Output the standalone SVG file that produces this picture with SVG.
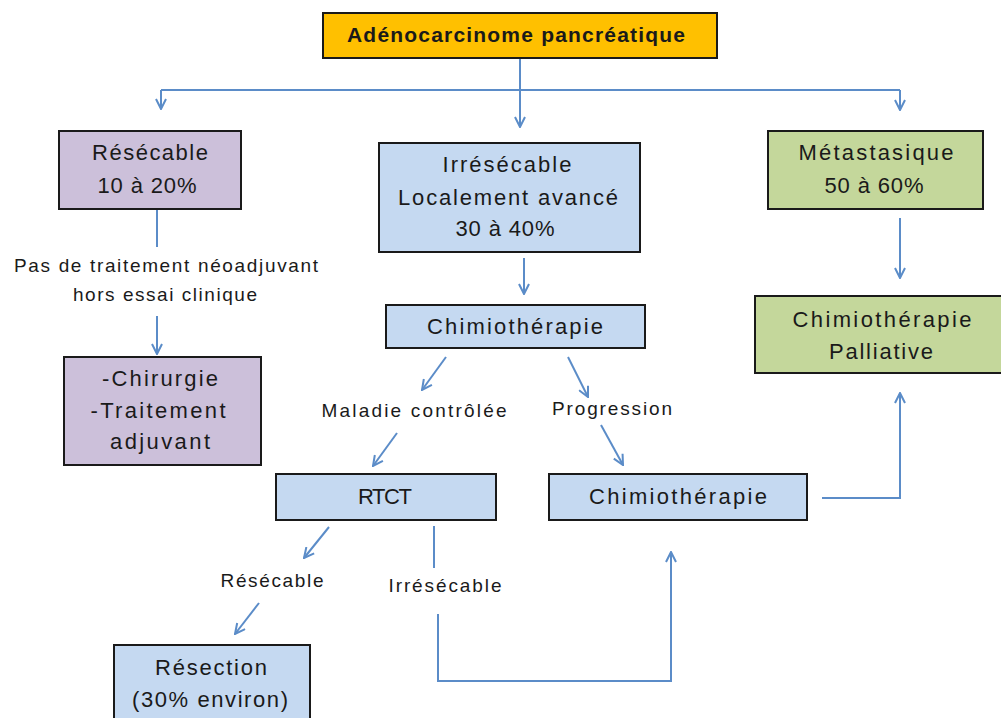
<svg xmlns="http://www.w3.org/2000/svg" width="1001" height="718" viewBox="0 0 1001 718">
<style>
.box{stroke:#1a1a1a;stroke-width:2}
.purple{fill:#CCC0DA}.blue{fill:#C5D9F1}.green{fill:#C4D79B}.orange{fill:#FFC000}
text{font-family:"Liberation Sans",Arial,sans-serif;fill:#1a1a1a;text-anchor:middle}
.t{font-size:22px}
.l{font-size:19px}
.c{fill:none;stroke:#5B8CC8;stroke-width:2}
</style>
<defs>
<marker id="arr" viewBox="0 0 12 12" refX="11" refY="6" markerWidth="12" markerHeight="12" markerUnits="userSpaceOnUse" orient="auto">
<path d="M1,1 L11,6 L1,11" fill="none" stroke="#5B8CC8" stroke-width="2"/>
</marker>
</defs>
<rect width="1001" height="718" fill="#fff"/>
<g id="connectors">
<path class="c" d="M520,58 V127" marker-end="url(#arr)"/>
<path class="c" d="M161,90 H900"/>
<path class="c" d="M161,90 V109" marker-end="url(#arr)"/>
<path class="c" d="M900,90 V110" marker-end="url(#arr)"/>
<path class="c" d="M157,209 V247"/>
<path class="c" d="M157,316 V354" marker-end="url(#arr)"/>
<path class="c" d="M524,258 V294" marker-end="url(#arr)"/>
<path class="c" d="M900,218 V278" marker-end="url(#arr)"/>
<path class="c" d="M446,357 L422,390" marker-end="url(#arr)"/>
<path class="c" d="M397,433 L373,466" marker-end="url(#arr)"/>
<path class="c" d="M568,357 L588,397" marker-end="url(#arr)"/>
<path class="c" d="M601,425 L623,465" marker-end="url(#arr)"/>
<path class="c" d="M822,498 H900 V393" marker-end="url(#arr)"/>
<path class="c" d="M329,527 L304,558" marker-end="url(#arr)"/>
<path class="c" d="M259,603 L235,634" marker-end="url(#arr)"/>
<path class="c" d="M434,526 V568"/>
<path class="c" d="M438,614 V681 H671 V552" marker-end="url(#arr)"/>
</g>
<g id="n-top"><rect class="box orange" x="323" y="13" width="394" height="45"/>
<text x="516" y="42" style="font-size:21px;font-weight:bold" textLength="338" lengthAdjust="spacing">Adénocarcinome  pancréatique</text></g>
<g id="n-resecable"><rect class="box purple" x="59" y="131" width="182" height="78"/>
<text class="t" x="150" y="160" textLength="116" lengthAdjust="spacing">Résécable</text><text class="t" x="147" y="193" textLength="99" lengthAdjust="spacing">10 à 20%</text></g>
<g id="n-irresecable"><rect class="box blue" x="379" y="143" width="261" height="109"/>
<text class="t" x="507" y="172" textLength="129" lengthAdjust="spacing">Irrésécable</text><text class="t" x="508" y="205" textLength="220" lengthAdjust="spacing">Localement avancé</text><text class="t" x="505" y="236" textLength="99" lengthAdjust="spacing">30 à 40%</text></g>
<g id="n-metastasique"><rect class="box green" x="768" y="131" width="215" height="78"/>
<text class="t" x="876" y="160" textLength="155" lengthAdjust="spacing">Métastasique</text><text class="t" x="874" y="193" textLength="99" lengthAdjust="spacing">50 à 60%</text></g>
<g id="lbl-pas"><text class="l" x="166" y="272" textLength="304" lengthAdjust="spacing">Pas de traitement néoadjuvant</text><text class="l" x="165" y="301" textLength="184" lengthAdjust="spacing">hors essai clinique</text></g>
<g id="n-chirurgie"><rect class="box purple" x="64" y="357" width="197" height="108"/>
<text class="t" x="160" y="386" textLength="116" lengthAdjust="spacing">-Chirurgie</text><text class="t" x="158" y="418" textLength="135" lengthAdjust="spacing">-Traitement</text><text class="t" x="160" y="449" textLength="100" lengthAdjust="spacing">adjuvant</text></g>
<g id="n-chimio1"><rect class="box blue" x="386" y="305" width="259" height="43"/>
<text class="t" x="515" y="334" textLength="176" lengthAdjust="spacing">Chimiothérapie</text></g>
<g id="n-palliative"><rect class="box green" x="755" y="296" width="250" height="77"/>
<text class="t" x="882" y="327" textLength="179" lengthAdjust="spacing">Chimiothérapie</text><text class="t" x="881" y="359" textLength="104" lengthAdjust="spacing">Palliative</text></g>
<g id="lbl-maladie"><text class="l" x="414" y="417" textLength="185" lengthAdjust="spacing">Maladie contrôlée</text></g>
<g id="lbl-progression"><text class="l" x="612" y="415" textLength="120" lengthAdjust="spacing">Progression</text></g>
<g id="n-rtct"><rect class="box blue" x="276" y="474" width="220" height="46"/>
<text class="t" x="385" y="504" textLength="54" lengthAdjust="spacing">RTCT</text></g>
<g id="n-chimio2"><rect class="box blue" x="549" y="474" width="258" height="46"/>
<text class="t" x="678" y="504" textLength="178" lengthAdjust="spacing">Chimiothérapie</text></g>
<g id="lbl-resecable2"><text class="l" x="272" y="587" textLength="103" lengthAdjust="spacing">Résécable</text></g>
<g id="lbl-irresecable2"><text class="l" x="445" y="592" textLength="113" lengthAdjust="spacing">Irrésécable</text></g>
<g id="n-resection"><rect class="box blue" x="114" y="645" width="196" height="80"/>
<text class="t" x="211" y="675" textLength="112" lengthAdjust="spacing">Résection</text><text class="t" x="210" y="707" textLength="156" lengthAdjust="spacing">(30% environ)</text></g>
</svg>
